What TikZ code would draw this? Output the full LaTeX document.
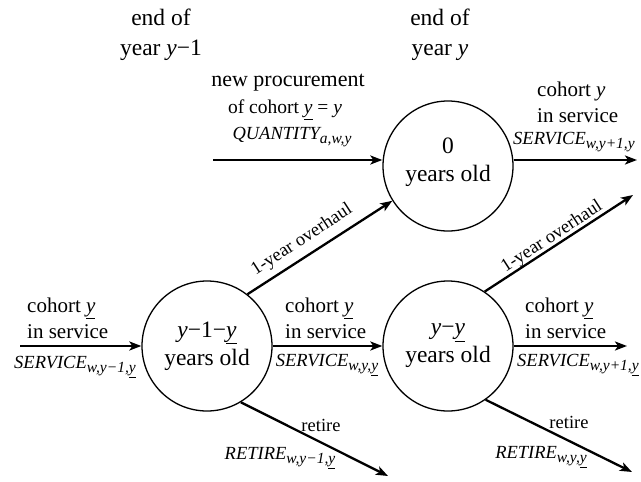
\documentclass[tikz,border=0pt]{standalone}
\usepackage{fontspec}
\setmainfont{Liberation Serif}
\usetikzlibrary{arrows.meta}
\newcommand\mysub[1]{\raisebox{-0.5ex}{\fontsize{15.5}{15.5}\selectfont\itshape #1}}
\newcommand\uy{\underline{\textit{y}}}
\tikzset{
  circ/.style={draw, circle, line width=1.3pt, minimum size=130pt, inner sep=0pt, align=center, font=\fontsize{23.5}{28}\selectfont},
  ctext/.style={inner sep=0pt, align=center, font=\fontsize{23.5}{28}\selectfont},
  arr/.style={line width=2.3pt, -{Stealth[length=12pt,width=9pt,inset=3pt]}},
  lab/.style={inner sep=0pt, align=left, font=\fontsize{21}{26}\selectfont},
  var/.style={inner sep=0pt, font=\fontsize{18.5}{18.5}\selectfont\itshape},
  small/.style={inner sep=0pt, font=\fontsize{18.5}{18.5}\selectfont},
  ttl/.style={inner sep=0pt, align=center, font=\fontsize{23.5}{30}\selectfont}
}
\begin{document}
\begin{tikzpicture}[x=1pt,y=-1pt]
\useasboundingbox (0,0) rectangle (641,482);
% titles
\node[ttl] (t1) at (161,35) {end of\\year \textit{y}−1};
\node[ttl] (t2) at (440,35) {end of\\year \textit{y}};
% circles
\node[circ] (L) at (207,346) {\textit{y}−1−\uy\\years old};
\node[circ] (R) at (448,346) {\textit{y}−\uy\\years old};
\node[circ] (T) at (448,166) {};
\node[ctext] (Tt) at (448,162) {0\\years old};
% free ends
\coordinate (inL) at (20,346);
\coordinate (inQ) at (213,160);
\coordinate (outT) at (637,160);
\coordinate (outR) at (627,346);
\coordinate (ovR) at (633,195);
\coordinate (reL) at (388,476);
\coordinate (reR) at (632,472);
% connectors
\draw[arr] (inL) -- (L.west);
\draw[arr] (L.east) -- (R.west);
\draw[arr] (R.east) -- (outR);
\draw[arr] (inQ) -- (inQ -| T.west);
\draw[arr] (T.east |- outT) -- (outT);
\draw[arr] (L.52) -- (T.212);
\draw[arr] (R.56) -- (ovR);
\draw[arr] (L.-59) -- (reL);
\draw[arr] (R.-55) -- (reR);
% labels: horizontal arrows
\node[lab, anchor=west] (c1) at (27,318) {cohort \uy\\in service};
\node[var] (s1) at (75,367) {SERVICE\mysub{w,y−1,\underline{y}}};
\node[lab, anchor=west] (c2) at (285,318) {cohort \uy\\in service};
\node[var] (s2) at (327,365) {SERVICE\mysub{w,y,\underline{y}}};
\node[lab, anchor=west] (c3) at (525,318) {cohort \uy\\in service};
\node[var, anchor=west] (s3) at (517,365) {SERVICE\mysub{w,y+1,\underline{y}}};
% top
\node[inner sep=0pt, font=\fontsize{22}{22}\selectfont] (np) at (288,83) {new procurement};
\node[inner sep=0pt, font=\fontsize{19.5}{19.5}\selectfont] (oc) at (285,110) {of cohort \uy{} = \textit{y}};
\node[var] (q) at (292,137) {QUANTITY\mysub{a,w,y}};
\node[lab, anchor=west] (c4) at (537,102) {cohort \textit{y}\\in service};
\node[var, anchor=west] (s4) at (513,142) {SERVICE\mysub{w,y+1,y}};
% overhaul
\node[small, rotate=33] (o1) at (302,240) {1-year overhaul};
\node[small, rotate=33] (o2) at (552,237) {1-year overhaul};
% retire
\node[small] (r1) at (321,425) {retire};
\node[var] (rv1) at (280,458) {RETIRE\mysub{w,y−1,\underline{y}}};
\node[small] (r2) at (569,422) {retire};
\node[var] (rv2) at (541,457) {RETIRE\mysub{w,y,\underline{y}}};
\end{tikzpicture}
\end{document}
